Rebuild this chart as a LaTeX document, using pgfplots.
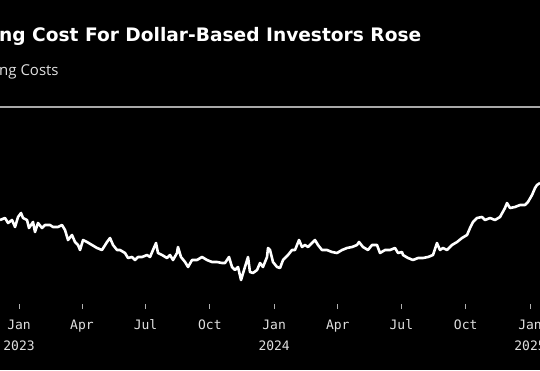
\documentclass[border=0pt]{standalone}
\usepackage{pgfplots}
\pgfplotsset{compat=1.18}
\usepackage{fontspec}
\setmainfont{Open Sans}
\newfontfamily\titlefont{DejaVu Sans}
\newfontfamily\monofont{DejaVu Sans Mono}
\definecolor{tickgray}{HTML}{B0B0B0}
\definecolor{labelgray}{HTML}{E0E0E0}
\definecolor{rulegray}{HTML}{A8A8A8}
\begin{document}
\begin{tikzpicture}[x=1pt,y=1pt]
\fill[black] (0,0) rectangle (540,370);
\useasboundingbox (0,0) rectangle (540,370);
\node[anchor=base west, inner sep=0pt, text=white, font=\titlefont\fontsize{18.6}{21}\selectfont\bfseries] at (-1,328) {ng Cost For Dollar-Based Investors Rose};
\node[anchor=base west, inner sep=0pt, text=labelgray, font=\fontsize{15}{17}\selectfont] at (-1,294) {ng Costs};
\begin{axis}[
  at={(0,66)}, anchor=south west,
  scale only axis, width=540pt, height=197pt,
  xmin=-27.2, xmax=745.3, ymin=0, ymax=197,
  axis line style={draw=none},
  xtick={0,90,181,273,365,456,547,639,731},
  xticklabels={Jan\\[3pt]2023,Apr,Jul,Oct,Jan\\[3pt]2024,Apr,Jul,Oct,Jan\\[3pt]2025},
  xticklabel style={align=center, text=labelgray, font=\monofont\fontsize{13}{18}\selectfont, yshift=-7pt},
  ytick=\empty,
  xtick pos=bottom, tick align=outside,
  major tick length=5pt,
  major tick style={draw=tickgray, line width=0.8pt},
  clip=true,
]
\draw[rulegray, line width=1.2pt] (rel axis cs:0,1) -- (rel axis cs:1,1);
\addplot[white, line width=2.6pt, line join=round] coordinates {
(-27.2,84) (-20.0,86) (-15.7,81) (-10.0,84) (-5.7,77) (-1.4,87) (2.9,91) (5.7,86) (11.4,84) (14.3,76) (20.0,82) (22.9,72) (27.2,81) (32.9,76) (37.2,79) (44.3,79) (48.6,77) (55.8,77) (61.5,79) (65.8,74) (70.1,64) (75.8,69) (80.1,62) (84.4,59) (87.3,54) (91.6,64) (97.3,62) (104.4,59) (111.6,56) (118.7,54) (125.9,62) (130.2,66) (134.5,59) (140.2,54) (144.5,54) (151.6,51) (155.9,46) (161.7,47) (165.9,44) (170.2,47)
(176.0,47) (183.1,49) (187.4,47) (191.7,54) (196.0,61) (198.8,51) (204.6,49) (211.7,46) (216.0,49) (220.3,44) (226.0,51) (227.4,57) (231.7,47) (237.5,42) (241.8,37) (247.5,44) (254.6,44) (261.8,47) (268.9,44) (276.1,42) (283.2,42) (290.4,41) (294.7,41) (300.4,47) (304.7,37) (309.0,34) (313.3,37) (317.6,24) (321.9,34) (327.6,47) (330.4,32) (334.7,31) (340.5,34) (344.8,41) (349.0,37) (354.8,47) (356.2,56) (359.1,54)
(363.3,42) (369.1,37) (373.4,36) (377.7,44) (384.8,49) (390.5,54) (394.8,54) (400.6,64) (404.8,57) (409.1,59) (413.4,57) (419.1,61) (423.4,64) (427.7,59) (433.4,54) (440.6,54) (447.7,52) (454.9,51) (462.1,54) (469.2,56) (476.4,57) (483.5,59) (486.4,62) (492.1,57) (499.2,54) (505.0,59) (512.1,59) (516.4,51) (523.6,54) (530.7,54) (537.9,56) (542.2,51) (547.9,52)
(549.3,49) (556.5,46) (563.6,44) (570.8,46) (577.9,46) (585.1,47) (592.2,49) (597.9,61) (602.2,54) (606.5,56) (612.3,54) (619.4,59) (626.6,62) (633.7,66) (640.9,69) (645.2,76) (649.4,82) (655.2,86) (662.3,87) (666.6,84) (673.8,86) (680.9,84) (688.1,87) (695.2,96) (698.1,101) (702.4,96) (709.5,97) (716.7,99) (723.8,99) (728.1,102) (733.9,109) (738.2,116) (741.0,119) (745.3,121)
};
\end{axis}
\end{tikzpicture}
\end{document}
